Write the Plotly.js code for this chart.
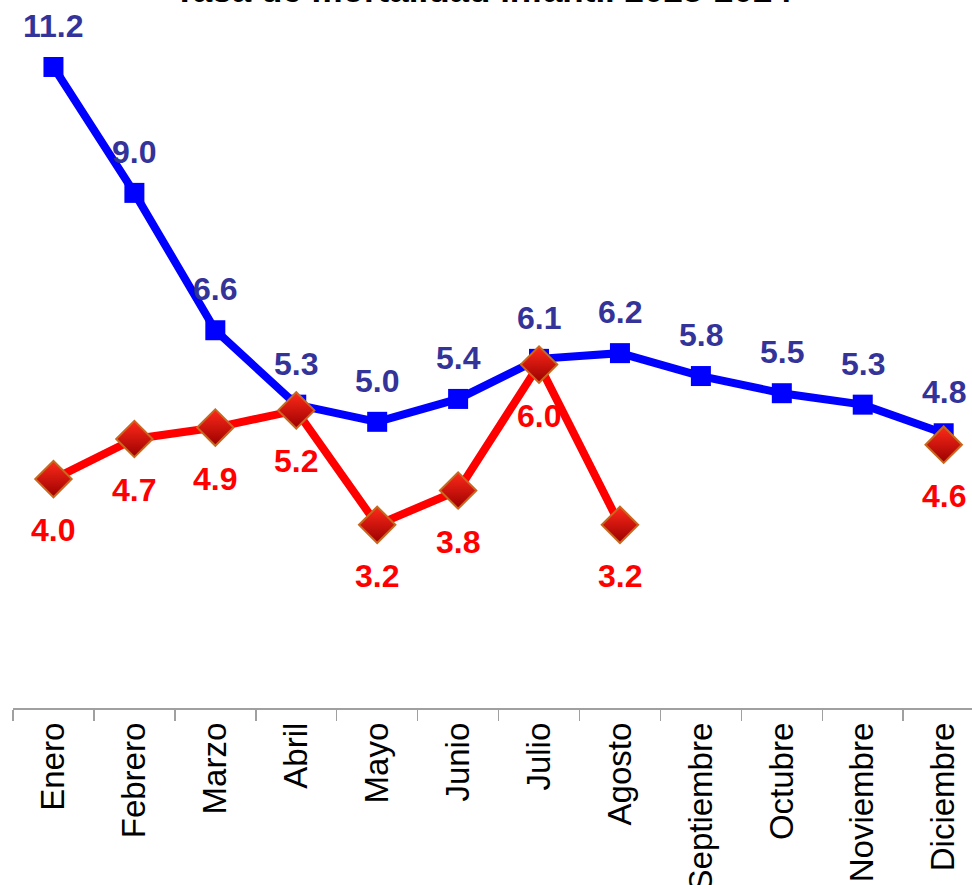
<!DOCTYPE html>
<html>
<head>
<meta charset="utf-8">
<script src="https://cdn.plot.ly/plotly-3.0.1.min.js"></script>
<style>
html,body{margin:0;padding:0;background:#fff;overflow:hidden;}
#chart{width:972px;height:885px;}
</style>
</head>
<body>
<div id="chart"></div>
<script>
const months = ["Enero","Febrero","Marzo","Abril","Mayo","Junio","Julio","Agosto","Septiembre","Octubre","Noviembre","Diciembre"];
const serie2023 = [11.2, 9.0, 6.6, 5.3, 5.0, 5.4, 6.1, 6.2, 5.8, 5.5, 5.3, 4.8];
const serie2024 = [4.0, 4.7, 4.9, 5.2, 3.2, 3.8, 6.0, 3.2, null, null, null, 4.6];
const chartTitle = "Tasa de mortalidad infantil 2023-2024";

const sans = "'Liberation Sans', Arial, sans-serif";

const traces = [
  {
    x: months, y: serie2023, type: "scatter", mode: "lines+markers", name: "2023",
    line: {color: "#0000FF", width: 8},
    marker: {symbol: "square", size: 20, color: "#0000FF"},
    connectgaps: false, hoverinfo: "skip"
  },
  {
    x: months, y: serie2024, type: "scatter", mode: "lines+markers", name: "2024",
    line: {color: "#FF0000", width: 8},
    marker: {symbol: "diamond", size: 28, color: "#FF2A1A",
             gradient: {type: "vertical", color: "#9A0000"},
             line: {color: "#C8681E", width: 2}},
    connectgaps: false, hoverinfo: "skip"
  }
];

const annotations = [];
serie2023.forEach((v, i) => {
  if (v === null) return;
  annotations.push({x: months[i], y: v, xref: "x", yref: "y", text: v.toFixed(1),
    showarrow: false, yshift: 41,
    font: {family: sans, size: 32, color: "#333399", weight: "bold"}});
});
serie2024.forEach((v, i) => {
  if (v === null) return;
  annotations.push({x: months[i], y: v, xref: "x", yref: "y", text: v.toFixed(1),
    showarrow: false, yshift: -51,
    font: {family: sans, size: 32, color: "#FF0000", weight: "bold"}});
});

const layout = {
  width: 972, height: 885,
  margin: {l: 13, r: 0, t: 0, b: 177, pad: 0},
  paper_bgcolor: "#ffffff", plot_bgcolor: "#ffffff",
  showlegend: false,
  title: {text: "<b>" + chartTitle + "</b>", x: 483/972, xanchor: "center",
          xref: "container", yref: "container", y: 1 - 2/885, yanchor: "bottom",
          font: {family: sans, size: 35, color: "#000"}},
  xaxis: {
    type: "category", range: [-0.5, 11.35],
    showline: true, linecolor: "#A0A0A0", linewidth: 1.5,
    ticks: "outside", tickson: "boundaries", ticklen: 11, tickcolor: "#A0A0A0", tickwidth: 1.5,
    tickangle: -90, showgrid: false, zeroline: false,
    tickfont: {family: sans, size: 33, color: "#000"}
  },
  yaxis: {range: [0, 12.37], visible: false, showgrid: false, zeroline: false, fixedrange: true},
  annotations: annotations
};

Plotly.newPlot("chart", traces, layout, {displayModeBar: false, staticPlot: true});
</script>
</body>
</html>
